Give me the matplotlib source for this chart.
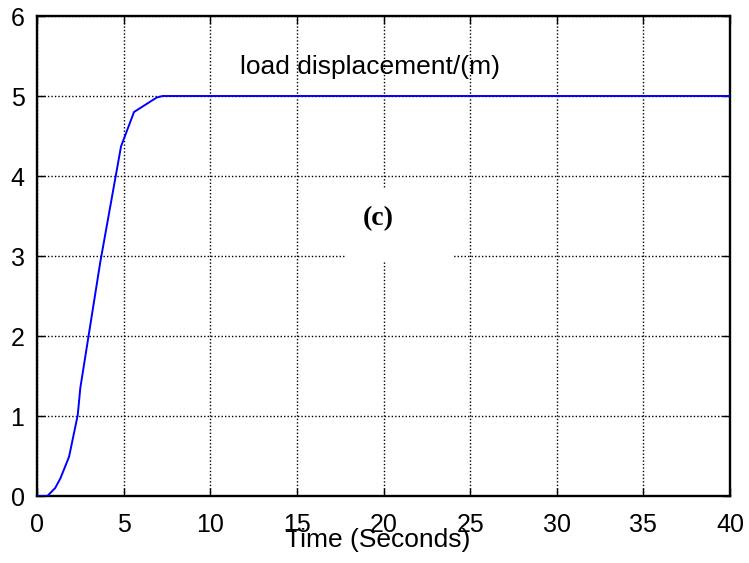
import numpy as np
import matplotlib
matplotlib.use('Agg')
import matplotlib.pyplot as plt
from matplotlib.patches import Rectangle

plt.rc('font', family='Liberation Sans')

time = [0, 0.6, 1.05, 1.35, 1.85, 2.35, 2.5, 3.65, 4.85, 5.6, 6.9, 7.25, 40]
disp = [0, 0, 0.1, 0.22, 0.49, 1.01, 1.35, 2.92, 4.37, 4.80, 4.98, 5.0, 5.0]
xticks = np.arange(0, 41, 5)
yticks = np.arange(0, 7, 1)

fig = plt.figure(figsize=(7.49, 5.63), dpi=100)
ax = fig.add_axes([37/749, 67/563, 693/749, 480/563])

ax.plot(time, disp, color='blue', linewidth=1.4, zorder=3)

ax.set_xlim(0, 40)
ax.set_ylim(0, 6)
ax.set_xticks(xticks)
ax.set_yticks(yticks)
ax.grid(True, color='k', linestyle=(0, (1, 1.5)), linewidth=1.0)
ax.set_axisbelow(True)
ax.tick_params(which='both', direction='in', length=6, width=1, colors='k',
               labelsize=18, top=True, right=True)
ax.tick_params(axis='x', pad=12)
ax.tick_params(axis='y', pad=9)
for s in ax.spines.values():
    s.set_linewidth(1.7)

# white patch behind the panel label
ax.add_patch(Rectangle((17.8, 2.925), 6.2, 0.925, facecolor='white',
                       edgecolor='none', zorder=2))
ax.text(19.7, 3.47, '(c)', family='Liberation Serif', fontweight='bold',
        fontsize=20, ha='center', va='center', zorder=4)

ax.text(11.7, 5.36, 'load displacement/(m)', fontsize=19, ha='left',
        va='center', zorder=4)

fig.text(377.5/749, 1 - 547/563, 'Time (Seconds)', fontsize=19,
         ha='center', va='baseline')

fig.savefig('out.png', dpi=100)
